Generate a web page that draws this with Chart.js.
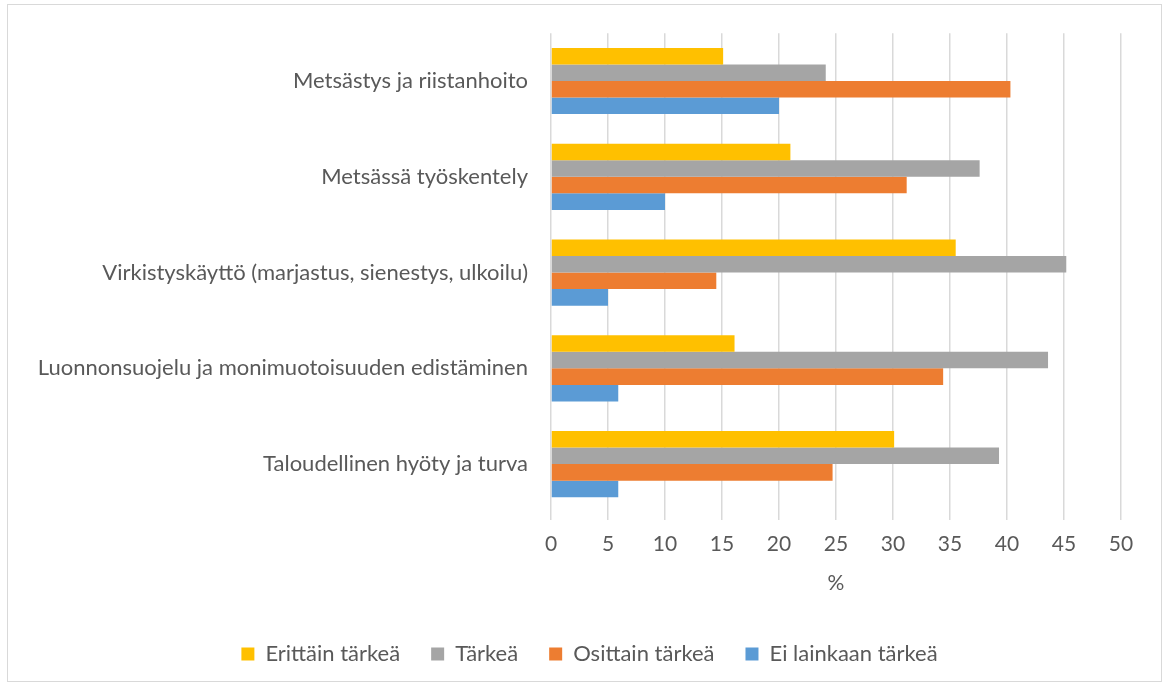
<!DOCTYPE html>
<html>
<head>
    <title>Metsän käyttötavat</title>
    <script src="https://cdn.jsdelivr.net/npm/chart.js"></script>
    <style>
        body { margin: 0; background: #fff; }
        #wrap { position: absolute; left: 7px; top: 4px; width: 1155px; height: 678px;
                border: 1px solid #d9d9d9; box-sizing: border-box; }
    </style>
</head>
<body>
    <div id="wrap"><canvas id="myChart"></canvas></div>
    <script>
        // categories, top to bottom
        var labels = [
            'Metsästys ja riistanhoito',
            'Metsässä työskentely',
            'Virkistyskäyttö (marjastus, sienestys, ulkoilu)',
            'Luonnonsuojelu ja monimuotoisuuden edistäminen',
            'Taloudellinen hyöty ja turva'
        ];
        var erittainTarkea = [15.1, 21.0, 35.5, 16.1, 30.1];
        var tarkea = [24.1, 37.6, 45.2, 43.6, 39.3];
        var osittainTarkea = [40.3, 31.2, 14.5, 34.4, 24.7];
        var eiLainkaan = [20.0, 10.0, 5.0, 5.9, 5.9];
        var xTicks = [0, 5, 10, 15, 20, 25, 30, 35, 40, 45, 50];

        var textColor = '#595959';
        var fontFamily = 'Lato, "Open Sans", sans-serif';

        // nudge the legend a bit to the right, like in the original
        var legendShift = {
            id: 'legendShift',
            afterLayout: function (chart) {
                chart.legend.left += 14;
                chart.legend.right += 14;
            }
        };

        var ctx = document.getElementById('myChart').getContext('2d');
        var myChart = new Chart(ctx, {
            type: 'bar',
            data: {
                labels: labels,
                datasets: [
                    { label: 'Erittäin tärkeä', data: erittainTarkea, backgroundColor: '#FFC000' },
                    { label: 'Tärkeä', data: tarkea, backgroundColor: '#A5A5A5' },
                    { label: 'Osittain tärkeä', data: osittainTarkea, backgroundColor: '#ED7D31' },
                    { label: 'Ei lainkaan tärkeä', data: eiLainkaan, backgroundColor: '#5B9BD5' }
                ]
            },
            plugins: [legendShift],
            options: {
                indexAxis: 'y',
                responsive: true,
                maintainAspectRatio: false,
                animation: false,
                categoryPercentage: 0.69,
                barPercentage: 1.0,
                layout: { padding: { left: 22, right: 40, top: 23, bottom: 6 } },
                scales: {
                    x: {
                        min: 0,
                        max: 50,
                        afterBuildTicks: function (scale) {
                            scale.ticks = xTicks.map(function (v) { return { value: v }; });
                        },
                        grid: { color: '#d9d9d9', lineWidth: 1.5, tickLength: 8 },
                        border: { display: false },
                        ticks: { color: textColor, font: { family: fontFamily, size: 21, lineHeight: 1 }, padding: 14 },
                        title: { display: true, text: '%', color: textColor,
                                 font: { family: fontFamily, size: 21, lineHeight: 1 }, padding: { top: 4, bottom: 18 } }
                    },
                    y: {
                        grid: { display: false },
                        border: { display: false },
                        ticks: { color: textColor, font: { family: fontFamily, size: 22 }, padding: 15 },
                        afterFit: function (scale) { scale.width = 521; }
                    }
                },
                plugins: {
                    legend: {
                        position: 'bottom',
                        labels: {
                            color: textColor,
                            font: { family: fontFamily, size: 22 },
                            boxWidth: 13,
                            boxHeight: 13,
                            padding: 31
                        }
                    },
                    tooltip: { enabled: false }
                }
            }
        });
    </script>
</body>
</html>
